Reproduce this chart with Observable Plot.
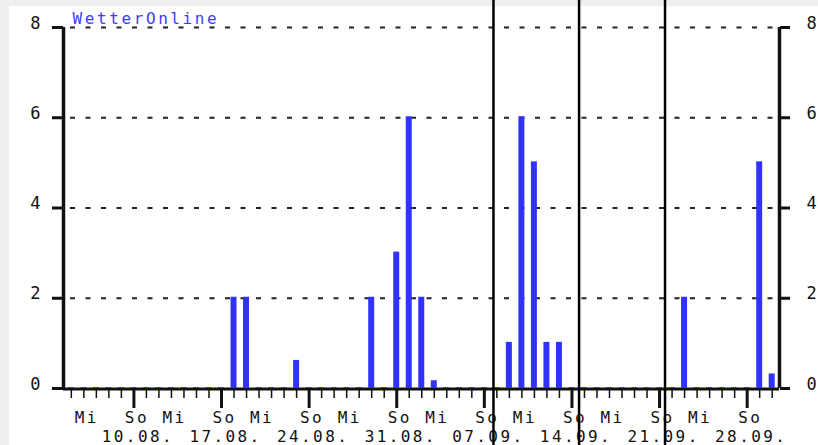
<!DOCTYPE html>
<html><head><meta charset="utf-8">
<script src="https://cdn.jsdelivr.net/npm/d3@7"></script>
<script src="https://cdn.jsdelivr.net/npm/@observablehq/plot@0.6"></script>
<style>
html,body{margin:0;padding:0;background:#fff;}
</style>
</head><body><div id="chart"></div>
<script>
// ---- data ----
const firstDay = "2025-08-05";
const values = [
  0,0,0,0,0,0,0,0,0,0,0,0,0,      // 05.08 - 17.08
  2,2,0,0,0,0.6,0,0,0,0,0,2,0,3,  // 18.08 - 31.08
  6,2,0.15,0,0,0,0,0,1,6,5,1,1,   // 01.09 - 13.09
  0,0,0,0,0,0,0,0,0,2,0,0,0,0,0,  // 14.09 - 28.09
  5,0.3                           // 29.09 - 30.09
];
const yTicks = [0, 2, 4, 6, 8];
const gridValues = [2, 4, 6, 8];
const weekdayNames = {0: "So", 3: "Mi"};
const separatorTimes = ["2025-09-07T17:30Z", "2025-09-14T13:40Z", "2025-09-21T10:30Z"];
const brand = "WetterOnline";

// ---- derived tables ----
const start = new Date(firstDay + "T00:00Z");
const days = values.map((v, i) => ({date: d3.utcDay.offset(start, i), value: v}));
const allDates = days.map(d => d.date);
const sundays = allDates.filter(d => d.getUTCDay() === 0);
const labelDays = allDates
  .filter(d => weekdayNames[d.getUTCDay()] !== undefined)
  .map(d => ({date: d, wd: weekdayNames[d.getUTCDay()]}));
const dateLabels = sundays.map(d => ({date: d, text: d3.utcFormat("%d.%m.")(d)}));
const separators = separatorTimes.map(s => new Date(s));
const xDomain = [d3.utcHour.offset(allDates[0], -14.4), d3.utcHour.offset(allDates[allDates.length - 1], 14.4)];
const half = d => d3.utcMinute.offset(d, -345);
const halfR = d => d3.utcMinute.offset(d, 345);

const blue = "#3232ff";
const ink = "#111";

const chart = Plot.plot({
  width: 818,
  height: 445,
  marginLeft: 63,
  marginRight: 39,
  marginTop: 27,
  marginBottom: 57,
  style: {
    fontFamily: "DejaVu Sans Mono, monospace",
    fontSize: "17px",
    letterSpacing: "2px",
    color: ink,
    background: "linear-gradient(#eeeeee,#eeeeee) left top / 100% 6px no-repeat, linear-gradient(#eeeeee,#eeeeee) left top / 9px 100% no-repeat, #ffffff"
  },
  x: {type: "utc", domain: xDomain, axis: null},
  y: {domain: [0, 8], axis: null},
  marks: [
    // dashed grid
    Plot.ruleY(gridValues, {stroke: "#222", strokeWidth: 2, strokeDasharray: "5,10.5", strokeDashoffset: 8.5}),
    // left and right axis lines
    Plot.ruleX([xDomain[0], xDomain[1]], {y1: 8, y2: 0, stroke: ink, strokeWidth: 3.5}),
    // baseline
    Plot.ruleY([0], {stroke: ink, strokeWidth: 3, dy: 0.5}),
    // y ticks
    Plot.axisY({anchor: "left", ticks: yTicks, tickSize: 11, strokeWidth: 3, tickFormat: () => "", stroke: ink, label: null}),
    Plot.axisY({anchor: "right", ticks: yTicks, tickSize: 10, strokeWidth: 3, tickFormat: () => "", stroke: ink, label: null}),
    // y labels
    Plot.text(yTicks, {y: d => d, text: d => String(d), frameAnchor: "left", dx: -21, textAnchor: "end", lineAnchor: "bottom", dy: 1, fill: ink}),
    Plot.text(yTicks, {y: d => d, text: d => String(d), frameAnchor: "right", dx: 27, textAnchor: "start", lineAnchor: "bottom", dy: 1, fill: ink}),
    // x ticks
    Plot.axisX({ticks: allDates, tickSize: 10, strokeWidth: 1.5, tickFormat: () => "", stroke: ink, label: null}),
    Plot.axisX({ticks: sundays, tickSize: 20, strokeWidth: 3, tickFormat: () => "", stroke: ink, label: null}),
    // x labels
    Plot.text(labelDays, {x: "date", text: "wd", frameAnchor: "bottom", dy: 29.5, dx: 3, lineAnchor: "middle", fill: ink, fontSize: 16}),
    Plot.text(dateLabels, {x: "date", text: "text", frameAnchor: "bottom", dy: 48.5, dx: 4, lineAnchor: "middle", fill: ink, fontSize: 16}),
    // bars
    Plot.rect(days, {x1: d => half(d.date), x2: d => halfR(d.date), y1: 0, y2: "value", fill: blue, insetTop: -1}),
    // brand
    Plot.text([brand], {frameAnchor: "top-left", dx: 9, dy: -3.5, lineAnchor: "bottom", textAnchor: "start", fill: "#3c3cff", fontSize: 16}),
    // separator lines
    Plot.ruleX(separators, {stroke: "#000", strokeWidth: 2.5, insetTop: -27, insetBottom: -57})
  ]
});
document.getElementById("chart").appendChild(chart);
d3.select(chart).selectAll("text").filter(function() { return this.textContent === brand; })
  .style("letter-spacing", "2.6px");
d3.select(chart).selectAll("text").filter(function() { return /^(So|Mi|\d\d\.\d\d\.)$/.test(this.textContent); })
  .style("letter-spacing", "2.4px");
</script>
</body></html>
